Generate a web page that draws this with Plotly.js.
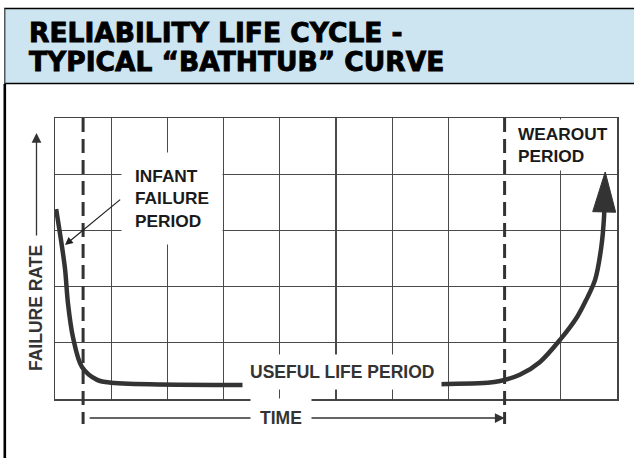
<!DOCTYPE html>
<html><head><meta charset="utf-8">
<script src="https://cdn.plot.ly/plotly-3.0.1.min.js"></script>
<style>
html,body{margin:0;padding:0;background:#fff;} #chart{width:634px;height:458px;}
.annotation[data-index="0"] .annotation-text, .annotation[data-index="1"] .annotation-text {stroke:#000; stroke-width:0.9px;}
</style>
</head><body><div id="chart"></div>
<script>
// ---------------- data ----------------
var titleLines = ['RELIABILITY LIFE CYCLE -', 'TYPICAL “BATHTUB” CURVE'];
// bathtub curve (x: time in grid units, y: failure rate in grid units); last point = arrow tip
var curveX = [0.02, 0.12, 0.18, 0.23, 0.32, 0.48, 0.75, 1.00, 7.70, 7.92, 8.27, 8.63, 9.00, 9.29, 9.45, 9.61, 9.72, 9.77, 9.79];
var curveY = [3.38, 2.74, 2.30, 1.71, 1.10, 0.57, 0.34, 0.29, 0.29, 0.32, 0.43, 0.66, 1.07, 1.46, 1.76, 2.12, 2.70, 3.25, 4.04];
var periodBounds = [0.5, 8];          // end of infant period, start of wearout period
var gridX = [1, 2, 3, 4, 5, 6, 7, 9];  // grid columns (x = 8 is the wearout boundary)
var gridY = [1, 2, 3, 4];
var infantLabel = 'INFANT<br>FAILURE<br>PERIOD';
var usefulLabel = 'USEFUL LIFE PERIOD';
var wearoutLabel = 'WEAROUT<br>PERIOD';
var yLabel = 'FAILURE RATE';
var xLabel = 'TIME';
var infantPoint = [0.178, 2.74];      // where the infant-period pointer touches the curve

// ---------------- layout helpers ----------------
var W = 634, H = 458, ML = 55, MR = 17, MT = 118, MB = 59;
var PW = W - ML - MR, PH = H - MT - MB;
var XR = [0, 10], YR = [0, 5];
var kx = PW / (XR[1] - XR[0]), ky = PH / (YR[1] - YR[0]);   // px per data unit
function pX(px) { return (px - ML) / PW; }
function pY(py) { return (H - MB - py) / PH; }

var labelFont = {family: 'Liberation Sans, Arial, sans-serif', size: 17.3, color: '#1a1a1a', weight: 'bold'};
var greyFont = {family: 'Liberation Sans, Arial, sans-serif', size: 17.5, color: '#333', weight: 'bold'};
var titleFont = {family: 'DejaVu Sans, sans-serif', size: 26.5, color: '#000', weight: 'bold'};

// arrowhead at the end of the curve, built from the last two curve points
var n = curveX.length;
var tip = [curveX[n - 1], curveY[n - 1]], prev = [curveX[n - 2], curveY[n - 2]];
var dxp = (tip[0] - prev[0]) * kx, dyp = (tip[1] - prev[1]) * ky;
var dl = Math.sqrt(dxp * dxp + dyp * dyp); dxp /= dl; dyp /= dl;
var headLen = 40, headHalf = 11.5;
var baseX = tip[0] - dxp * headLen / kx, baseY = tip[1] - dyp * headLen / ky;
var headX = [tip[0], baseX - dyp * headHalf / kx, baseX + dyp * headHalf / kx, tip[0]];
var headY = [tip[1], baseY + dxp * headHalf / ky, baseY - dxp * headHalf / ky, tip[1]];
var shaftX = curveX.slice(0, n - 1).concat([tip[0] - dxp * 20 / kx]);
var shaftY = curveY.slice(0, n - 1).concat([tip[1] - dyp * 20 / ky]);

var traces = [{
  type: 'scatter', mode: 'lines', x: shaftX, y: shaftY,
  line: {color: '#333', width: 4.5, shape: 'spline', smoothing: 0.9},
  hoverinfo: 'skip', showlegend: false
}, {
  type: 'scatter', mode: 'lines', x: headX, y: headY, fill: 'toself', fillcolor: '#333',
  line: {color: '#333', width: 1}, hoverinfo: 'skip', showlegend: false
}];

var shapes = [
  {type: 'rect', xref: 'paper', yref: 'paper', x0: pX(4), x1: pX(640), y0: pY(84), y1: pY(8),
   fillcolor: '#cde4f1', line: {width: 0}, layer: 'below'},
  {type: 'line', xref: 'paper', yref: 'paper', x0: pX(4), x1: pX(640), y0: pY(8.5), y1: pY(8.5),
   line: {color: '#000', width: 1.3}},
  {type: 'line', xref: 'paper', yref: 'paper', x0: pX(4), x1: pX(640), y0: pY(83.5), y1: pY(83.5),
   line: {color: '#000', width: 1.6}},
  {type: 'line', xref: 'paper', yref: 'paper', x0: pX(4.8), x1: pX(4.8), y0: pY(8), y1: pY(84),
   line: {color: '#444', width: 1.3}},
  {type: 'line', xref: 'paper', yref: 'paper', x0: pX(4.8), x1: pX(4.8), y0: pY(84), y1: pY(462),
   line: {color: '#000', width: 2.6}}
];
periodBounds.forEach(function (b) {
  shapes.push({type: 'line', xref: 'x', yref: 'paper', x0: b, x1: b, y0: 1, y1: pY(424),
               line: {color: '#333', width: 3, dash: '14px,7px'}, layer: 'above'});
});

var annotations = [
  {xref: 'paper', yref: 'paper', x: pX(27), y: pY(32), xanchor: 'left', yanchor: 'middle',
   text: titleLines[0], showarrow: false, font: titleFont},
  {xref: 'paper', yref: 'paper', x: pX(27), y: pY(62), xanchor: 'left', yanchor: 'middle',
   text: titleLines[1], showarrow: false, font: titleFont},
  // infant pointer
  {xref: 'x', yref: 'y', x: infantPoint[0], y: infantPoint[1], axref: 'x', ayref: 'y', ax: 1.186, ay: 3.57,
   text: '', showarrow: true, arrowhead: 2, arrowsize: 1.3, arrowwidth: 1.2, arrowcolor: '#222'},
  {xref: 'x', yref: 'y', x: 1.174, y: 4.395, xanchor: 'left', yanchor: 'top', align: 'left',
   text: infantLabel, showarrow: false, bgcolor: '#fff', borderpad: 13, font: labelFont},
  {xref: 'x', yref: 'y', x: 5.107, y: 0.489, xanchor: 'center', yanchor: 'middle',
   text: usefulLabel, showarrow: false, bgcolor: '#fff', borderpad: 7, font: greyFont},
  {xref: 'x', yref: 'y', x: 8.15, y: 4.98, xanchor: 'left', yanchor: 'top', align: 'left',
   text: wearoutLabel, showarrow: false, bgcolor: '#fff', borderpad: 4, font: labelFont},
  // failure-rate arrow and label
  {xref: 'paper', yref: 'paper', x: pX(36.5), y: pY(133), ax: 0, ay: 104,
   text: '', showarrow: true, arrowhead: 2, arrowsize: 1.5, arrowwidth: 1.3, arrowcolor: '#333'},
  {xref: 'paper', yref: 'paper', x: pX(35.5), y: pY(308.5), xanchor: 'center', yanchor: 'middle', textangle: -90,
   text: yLabel, showarrow: false, font: greyFont},
  // time arrow and label
  {xref: 'x', yref: 'paper', x: periodBounds[1], y: pY(418), axref: 'x', ax: 0.59, ayref: 'pixel', ay: 0,
   text: '', showarrow: true, arrowhead: 2, arrowsize: 1.5, arrowwidth: 1.3, arrowcolor: '#333'},
  {xref: 'x', yref: 'paper', x: 4.03, y: pY(418), xanchor: 'center', yanchor: 'middle', text: xLabel, showarrow: false,
   bgcolor: '#fff', borderpad: 9, font: greyFont}
];

var axisCommon = {showticklabels: false, ticks: '', zeroline: false, showgrid: true,
  gridcolor: '#4a4a4a', gridwidth: 1.3, showline: true, mirror: true, linecolor: '#444', linewidth: 1.5,
  fixedrange: true, tickmode: 'array'};

var layout = {
  width: W, height: H, margin: {l: ML, r: MR, t: MT, b: MB, pad: 0},
  paper_bgcolor: '#fff', plot_bgcolor: '#fff', showlegend: false,
  xaxis: Object.assign({}, axisCommon, {range: XR, tickvals: gridX}),
  yaxis: Object.assign({}, axisCommon, {range: YR, tickvals: gridY}),
  shapes: shapes, annotations: annotations
};

Plotly.newPlot('chart', traces, layout, {staticPlot: true, displayModeBar: false});
</script>
</body></html>
